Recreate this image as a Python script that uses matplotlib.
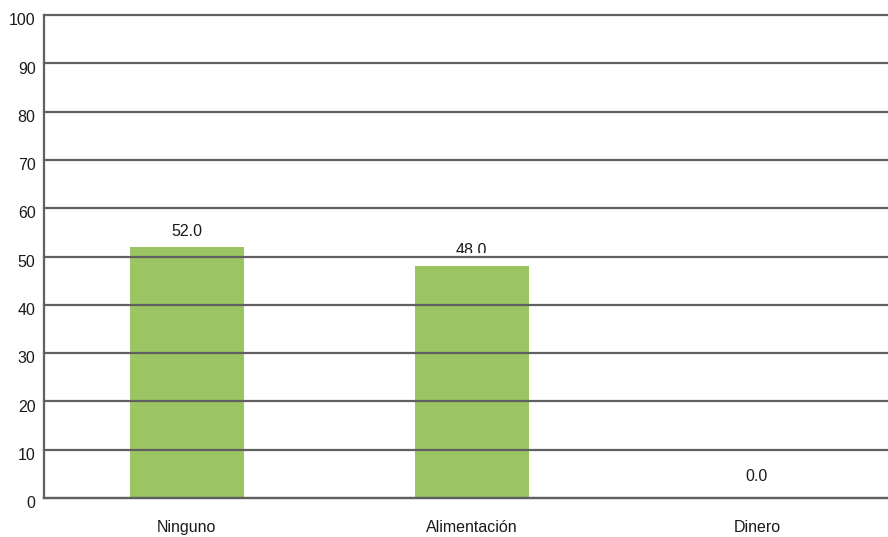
import matplotlib
matplotlib.use("Agg")
import matplotlib.pyplot as plt
import matplotlib.transforms as mtransforms
import numpy as np
from matplotlib.patches import Rectangle

plt.rcParams['font.family'] = ['Liberation Sans', 'DejaVu Sans']

categorias = ['Ninguno', 'Alimentación', 'Dinero']
porcentajes = [52.0, 48.0, 0.0]

fig = plt.figure(figsize=(8.88, 5.37), dpi=100)
ax = fig.add_axes([0.0495, 0.0726, 0.9505, 0.8994])

x = np.arange(len(categorias))
ax.bar(x, porcentajes, width=0.4, color='#9bc563', zorder=2)

# the plot area runs off the right edge, so the last slot is cut short
ax.set_xlim(-0.5, 2.46)
ax.set_ylim(0, 100)
ax.set_yticks(np.arange(0, 101, 10))
ax.set_xticks(x)
ax.set_xticklabels(categorias)
ax.tick_params(axis='both', length=0, labelsize=11.5, colors='#1a1a1a')
ax.tick_params(axis='x', pad=16)
ax.tick_params(axis='y', pad=6)

# y labels sit a little below their lines
shift = mtransforms.ScaledTranslation(0, -3 / 72, fig.dpi_scale_trans)
for lbl in ax.get_yticklabels():
    lbl.set_transform(lbl.get_transform() + shift)

ax.yaxis.grid(True, color='#606060', linewidth=1.6, zorder=3)
for gl in ax.get_ygridlines():
    gl.set_clip_on(False)
ax.set_axisbelow(False)
for side in ['top', 'right']:
    ax.spines[side].set_visible(False)
for side in ['left', 'bottom']:
    ax.spines[side].set_color('#606060')
    ax.spines[side].set_linewidth(1.6)

# value labels; the one sitting on a gridline gets cut at the line
for xi, v in zip(x, porcentajes):
    off = 6 if v > 0 else 10
    t = ax.annotate(f'{v:.1f}', (xi, v), xytext=(0, off), textcoords='offset points',
                    ha='center', va='bottom', fontsize=11.5, color='#1a1a1a', zorder=4)
    grid_above = np.ceil(v / 10) * 10
    if v > 0 and grid_above - v < 5:
        clip = Rectangle((xi - 0.5, grid_above + 0.8), 1, 20, transform=ax.transData)
        t.set_clip_path(clip)

fig.savefig('out.png', dpi=100)
